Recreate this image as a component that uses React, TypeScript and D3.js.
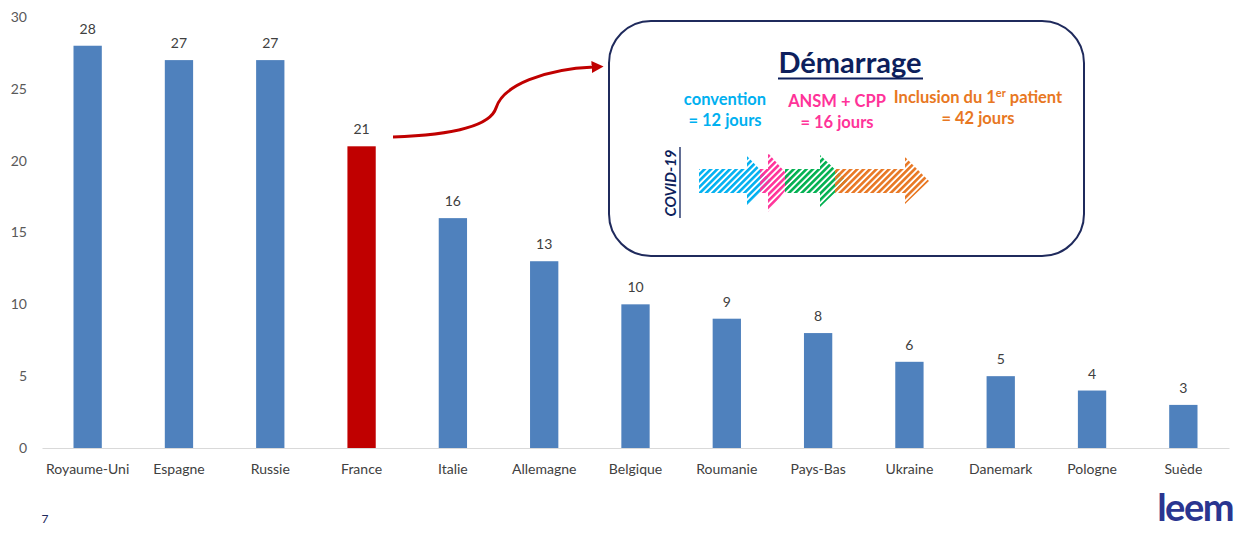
import * as d3 from "d3";
import { useEffect, useRef } from "react";

const countries = [
  "Royaume-Uni", "Espagne", "Russie", "France", "Italie", "Allemagne", "Belgique",
  "Roumanie", "Pays-Bas", "Ukraine", "Danemark", "Pologne", "Suède",
];
const studies = [28, 27, 27, 21, 16, 13, 10, 9, 8, 6, 5, 4, 3];
const highlight = "France";
const yTicks = [0, 5, 10, 15, 20, 25, 30];

const stepLabels = ["convention", "ANSM + CPP", "Inclusion du 1"];
const stepDays = ["= 12 jours", "= 16 jours", "= 42 jours"];

const W = 1235;
const H = 540;
const margin = { left: 42, right: 6, top: 17, bottom: 92 };
const FONT = "Lato, 'Liberation Sans', sans-serif";

const App = () => {
  const axisRef = useRef<SVGGElement>(null);

  const x = d3
    .scaleBand()
    .domain(countries)
    .range([margin.left, W - margin.right])
    .paddingInner(0.69)
    .paddingOuter(0.345);
  const y = d3.scaleLinear().domain([0, 30]).range([H - margin.bottom, margin.top]);

  useEffect(() => {
    const g = d3.select(axisRef.current);
    g.selectAll("*").remove();
    const yAxis = d3.axisLeft(y).tickValues(yTicks).tickSize(0).tickPadding(15);
    const ya = g.append("g").attr("transform", `translate(${margin.left},0)`).call(yAxis);
    ya.select(".domain").remove();
    ya.selectAll("text")
      .attr("fill", "#595959")
      .attr("font-size", 14)
      .attr("font-family", FONT);

    const xAxis = d3.axisBottom(x).tickSize(0).tickPadding(16);
    const xa = g.append("g").attr("transform", `translate(0,${y(0)})`).call(xAxis);
    xa.select(".domain").attr("stroke", "#d9d9d9").attr("stroke-width", 1);
    xa.selectAll("text")
      .attr("fill", "#404040")
      .attr("font-size", 14)
      .attr("font-family", FONT);
  }, []);

  // hatched arrows inside the callout
  const bodyTop = 169;
  const bodyBot = 193;
  const arrows = [
    { id: "cyan", color: "#00b0f0", x0: 699, xh: 747, tip: 771, ht: 156, hb: 207 },
    { id: "pink", color: "#ff3399", x0: 760, xh: 768, tip: 793, ht: 153, hb: 212 },
    { id: "green", color: "#00b050", x0: 785, xh: 820, tip: 847, ht: 155, hb: 207 },
    { id: "orange", color: "#e87722", x0: 835, xh: 905, tip: 929, ht: 157, hb: 204 },
  ];
  const arrowPath = (a) =>
    `M${a.x0},${bodyTop}L${a.xh},${bodyTop}L${a.xh},${a.ht}L${a.tip},${(bodyTop + bodyBot) / 2}` +
    `L${a.xh},${a.hb}L${a.xh},${bodyBot}L${a.x0},${bodyBot}Z`;

  const stepColors = ["#00b0f0", "#ff3399", "#e87722"];
  const stepX = [725, 837, 978];
  const stepY = [105, 107, 103];

  return (
    <svg
      width={W}
      height={H}
      style={{ position: "absolute", left: 0, top: 0, background: "#fff" }}
      fontFamily={FONT}
    >
      <defs>
        {arrows.map((a) => (
          <pattern
            key={a.id}
            id={`hatch-${a.id}`}
            width={4.5}
            height={4.5}
            patternUnits="userSpaceOnUse"
            patternTransform="rotate(45)"
          >
            <rect x={0} y={0} width={2.6} height={4.5} fill={a.color} />
          </pattern>
        ))}
        <marker id="redhead" viewBox="0 0 10 10" refX={2} refY={5} markerWidth={4} markerHeight={4} orient="auto">
          <path d="M0,0L10,5L0,10Z" fill="#c00000" />
        </marker>
      </defs>

      <g ref={axisRef} />

      {countries.map((c, i) => (
        <g key={c}>
          <rect
            x={x(c)}
            y={y(studies[i])}
            width={x.bandwidth()}
            height={y(0) - y(studies[i])}
            fill={c === highlight ? "#c00000" : "#4f81bd"}
          />
          <text
            x={x(c)! + x.bandwidth() / 2}
            y={y(studies[i]) - 12}
            textAnchor="middle"
            fontSize={14}
            fill="#404040"
          >
            {studies[i]}
          </text>
        </g>
      ))}

      {/* red curved arrow from France to the callout */}
      <path
        d="M393,137 C450,135 490,127 496,108 C503,85 545,69 594,67"
        fill="none"
        stroke="#c00000"
        strokeWidth={3}
        markerEnd="url(#redhead)"
      />

      {/* callout box */}
      <rect x={609} y={21} width={475} height={235} rx={42} ry={42} fill="#fff" stroke="#1f2a5c" strokeWidth={2} />
      <text x={850} y={73} textAnchor="middle" fontSize={29} fontWeight="bold" fill="#0d1f5c">
        Démarrage
      </text>
      <line x1={778} x2={923} y1={78.5} y2={78.5} stroke="#0d1f5c" strokeWidth={2} />

      {stepLabels.map((s, i) => (
        <g key={s} fill={stepColors[i]} fontWeight="bold" fontSize={16.5} textAnchor="middle">
          <text x={stepX[i]} y={stepY[i]}>
            {s}
            {i === 2 && (
              <>
                <tspan dy={-6} fontSize={11}>er</tspan>
                <tspan dy={6}> patient</tspan>
              </>
            )}
          </text>
          <text x={stepX[i]} y={stepY[i] + 21}>
            {stepDays[i]}
          </text>
        </g>
      ))}

      <text
        transform="translate(676,183) rotate(-90)"
        textAnchor="middle"
        fontSize={15}
        fontWeight="bold"
        fontStyle="italic"
        fill="#0d1f5c"
      >
        COVID-19
      </text>
      <line x1={680} x2={680} y1={147} y2={218} stroke="#0d1f5c" strokeWidth={1.3} />

      {arrows.map((a) => (
        <path key={a.id} d={arrowPath(a)} fill={`url(#hatch-${a.id})`} />
      ))}

      <text x={45} y={523} fontSize={12} fill="#1f2a5c" textAnchor="middle">7</text>
      <text x={1233} y={521} fontSize={38} fontWeight="bold" fill="#2a3590" letterSpacing={-1.5} textAnchor="end">
        leem
      </text>
    </svg>
  );
};

export default App;
